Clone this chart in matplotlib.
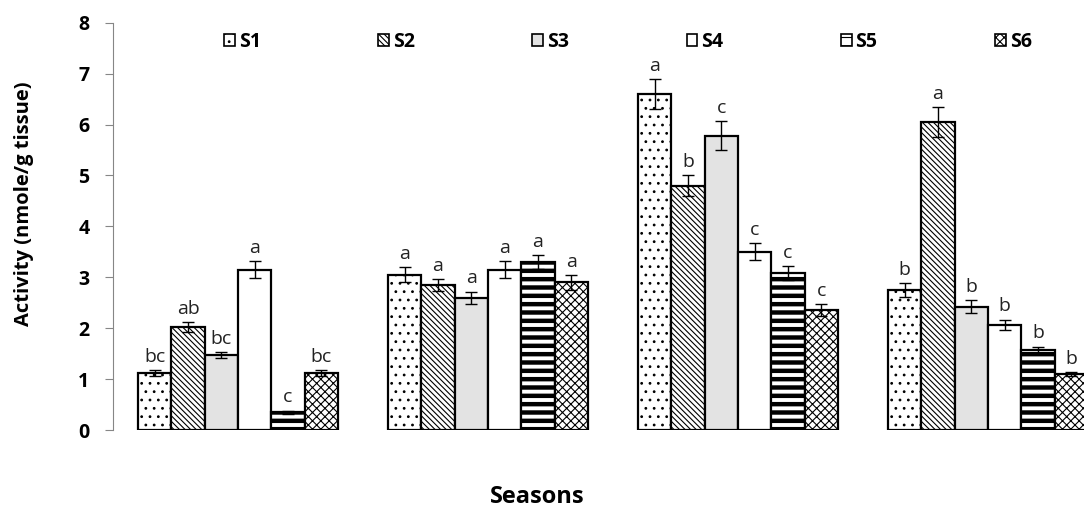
import numpy as np
import matplotlib
matplotlib.use('Agg')
import matplotlib.pyplot as plt

plt.rcParams['font.family'] = ['Open Sans', 'DejaVu Sans']
plt.rcParams['hatch.linewidth'] = 0.8

seasons = ['Winter', 'Spring', 'Summer', 'Autumn']
series = ['S1', 'S2', 'S3', 'S4', 'S5', 'S6']

values = [
    [1.12, 3.05, 6.60, 2.75],
    [2.02, 2.85, 4.80, 6.05],
    [1.47, 2.60, 5.78, 2.42],
    [3.15, 3.15, 3.50, 2.07],
    [0.35, 3.30, 3.08, 1.58],
    [1.12, 2.90, 2.35, 1.10],
]
errors = [
    [0.06, 0.15, 0.30, 0.14],
    [0.10, 0.12, 0.21, 0.30],
    [0.06, 0.12, 0.28, 0.13],
    [0.17, 0.17, 0.17, 0.10],
    [0.03, 0.14, 0.14, 0.06],
    [0.05, 0.15, 0.12, 0.04],
]
letters = [
    ['bc', 'a', 'a', 'b'],
    ['ab', 'a', 'b', 'a'],
    ['bc', 'a', 'c', 'b'],
    ['a', 'a', 'c', 'b'],
    ['c', 'a', 'c', 'b'],
    ['bc', 'a', 'c', 'b'],
]

fills = ['white', 'white', '#e3e3e3', 'white', 'white', 'white']
hatches = ['..', '\\\\\\\\\\\\', None, None, '--', 'xxxx']

fig = plt.figure(figsize=(10.84, 5.2), dpi=100)
ax = fig.add_axes([113 / 1084, 90 / 520, 1000 / 1084, 0.7832])

x = np.arange(len(seasons))
w = 0.8 / len(series)
for i, s in enumerate(series):
    pos = x + (i - 2.5) * w
    bars = ax.bar(pos, values[i], w, color=fills[i], edgecolor='black',
                  linewidth=1.6, hatch=hatches[i], label=s, zorder=2)
    if s == 'S5':
        for b in bars:
            if hasattr(b, 'set_hatch_linewidth'):
                b.set_hatch_linewidth(3.2)
    ax.errorbar(pos, values[i], yerr=errors[i], fmt='none', ecolor='black',
                elinewidth=1, capsize=4, capthick=1, zorder=3)
    for p, v, e, t in zip(pos, values[i], errors[i], letters[i]):
        ax.annotate(t, (p, v + e), xytext=(0, 3), textcoords='offset points',
                    ha='center', va='bottom', fontsize=14, color='#222222')

ax.set_xlim(-0.5, 3.5)
ax.set_ylim(0, 8)
ax.set_yticks(range(0, 9))
ax.set_xticks([])
for side in ['top', 'right', 'bottom']:
    ax.spines[side].set_visible(False)
ax.spines['left'].set_color('#868686')
ax.tick_params(axis='y', length=6, color='#868686', pad=11, labelsize=14)
for lab in ax.get_yticklabels():
    lab.set_fontweight('bold')

leg = ax.legend(ncol=6, loc='center left', bbox_to_anchor=(224 / 1084, 1 - 42 / 520),
                bbox_transform=fig.transFigure, frameon=False, borderpad=0,
                borderaxespad=0, handlelength=0.55, handleheight=0.55,
                handletextpad=0.2, columnspacing=6.05,
                prop={'weight': 'bold', 'size': 14})
for h in leg.legend_handles:
    h.set_linewidth(1.2)

fig.text(24 / 1084, 1 - 204 / 520, 'Activity (nmole/g tissue)', rotation=90,
         ha='center', va='center', fontsize=14.5, fontweight='bold')
fig.text(537 / 1084, 1 - 497 / 520, 'Seasons', ha='center', va='center',
         fontsize=17, fontweight='bold')

fig.savefig('out.png', dpi=100)
